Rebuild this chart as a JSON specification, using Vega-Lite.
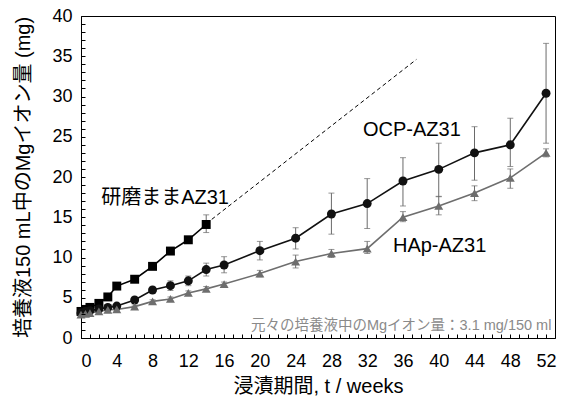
{
  "$schema": "https://vega.github.io/schema/vega-lite/v6.json",
  "autosize": {"type": "none"},
  "width": 474,
  "height": 322,
  "padding": {"left": 81, "top": 16, "right": 13, "bottom": 62},
  "background": "white",
  "config": {
    "view": {"stroke": "#000000", "strokeWidth": 1},
    "font": "Liberation Sans, Noto Sans CJK JP",
    "axis": {"grid": false, "domainColor": "#000", "tickColor": "#000", "labelColor": "#000", "titleColor": "#000", "labelFont": "Liberation Sans", "labelFontSize": 18, "titleFont": "Liberation Sans, Noto Sans CJK JP", "titleFontSize": 20, "titleFontWeight": "normal"}
  },
  "datasets": {
    "pts": [
      {"series": "P", "week": 0, "mg": 3.3, "lo": 3.1, "hi": 3.5},
      {"series": "P", "week": 0.5, "mg": 3.55, "lo": 3.4, "hi": 3.7},
      {"series": "P", "week": 1, "mg": 3.8, "lo": 3.65, "hi": 3.95},
      {"series": "P", "week": 2, "mg": 4.3, "lo": 4.15, "hi": 4.45},
      {"series": "P", "week": 3, "mg": 5.1, "lo": 4.95, "hi": 5.25},
      {"series": "P", "week": 4, "mg": 6.45, "lo": 6.3, "hi": 6.6},
      {"series": "P", "week": 6, "mg": 7.3, "lo": 7.15, "hi": 7.45},
      {"series": "P", "week": 8, "mg": 8.9, "lo": 8.55, "hi": 9.25},
      {"series": "P", "week": 10, "mg": 10.8, "lo": 10.6, "hi": 11.0},
      {"series": "P", "week": 12, "mg": 12.2, "lo": 11.9, "hi": 12.5},
      {"series": "P", "week": 14, "mg": 14.1, "lo": 13.1, "hi": 15.3},
      {"series": "O", "week": 0, "mg": 3.1, "lo": 2.95, "hi": 3.25},
      {"series": "O", "week": 0.5, "mg": 3.3, "lo": 3.15, "hi": 3.45},
      {"series": "O", "week": 1, "mg": 3.4, "lo": 3.25, "hi": 3.55},
      {"series": "O", "week": 2, "mg": 3.6, "lo": 3.45, "hi": 3.75},
      {"series": "O", "week": 3, "mg": 3.8, "lo": 3.6, "hi": 4.0},
      {"series": "O", "week": 4, "mg": 3.97, "lo": 3.75, "hi": 4.2},
      {"series": "O", "week": 6, "mg": 4.72, "lo": 4.5, "hi": 4.95},
      {"series": "O", "week": 8, "mg": 5.96, "lo": 5.65, "hi": 6.25},
      {"series": "O", "week": 10, "mg": 6.5, "lo": 5.9, "hi": 7.1},
      {"series": "O", "week": 12, "mg": 7.1, "lo": 6.5, "hi": 7.7},
      {"series": "O", "week": 14, "mg": 8.5, "lo": 7.7, "hi": 9.3},
      {"series": "O", "week": 16, "mg": 9.07, "lo": 8.1, "hi": 10.1},
      {"series": "O", "week": 20, "mg": 10.85, "lo": 9.7, "hi": 12.0},
      {"series": "O", "week": 24, "mg": 12.4, "lo": 11.06, "hi": 13.7},
      {"series": "O", "week": 28, "mg": 15.4, "lo": 12.9, "hi": 18.0},
      {"series": "O", "week": 32, "mg": 16.7, "lo": 13.6, "hi": 19.8},
      {"series": "O", "week": 36, "mg": 19.5, "lo": 16.4, "hi": 22.4},
      {"series": "O", "week": 40, "mg": 20.95, "lo": 17.55, "hi": 24.2},
      {"series": "O", "week": 44, "mg": 23.0, "lo": 19.6, "hi": 26.25},
      {"series": "O", "week": 48, "mg": 24.0, "lo": 21.3, "hi": 27.3},
      {"series": "O", "week": 52, "mg": 30.4, "lo": 24.2, "hi": 36.6},
      {"series": "H", "week": 0, "mg": 2.9, "lo": 2.75, "hi": 3.05},
      {"series": "H", "week": 0.5, "mg": 3.0, "lo": 2.85, "hi": 3.15},
      {"series": "H", "week": 1, "mg": 3.1, "lo": 2.95, "hi": 3.25},
      {"series": "H", "week": 2, "mg": 3.3, "lo": 3.15, "hi": 3.45},
      {"series": "H", "week": 3, "mg": 3.5, "lo": 3.35, "hi": 3.65},
      {"series": "H", "week": 4, "mg": 3.55, "lo": 3.4, "hi": 3.7},
      {"series": "H", "week": 6, "mg": 3.9, "lo": 3.7, "hi": 4.1},
      {"series": "H", "week": 8, "mg": 4.55, "lo": 4.35, "hi": 4.75},
      {"series": "H", "week": 10, "mg": 4.85, "lo": 4.6, "hi": 5.1},
      {"series": "H", "week": 12, "mg": 5.6, "lo": 5.35, "hi": 5.85},
      {"series": "H", "week": 14, "mg": 6.1, "lo": 5.8, "hi": 6.4},
      {"series": "H", "week": 16, "mg": 6.7, "lo": 6.45, "hi": 6.95},
      {"series": "H", "week": 20, "mg": 8.0, "lo": 7.6, "hi": 8.4},
      {"series": "H", "week": 24, "mg": 9.5, "lo": 8.7, "hi": 10.3},
      {"series": "H", "week": 28, "mg": 10.5, "lo": 10.0, "hi": 11.0},
      {"series": "H", "week": 32, "mg": 11.1, "lo": 10.5, "hi": 12.0},
      {"series": "H", "week": 36, "mg": 15.0, "lo": 14.45, "hi": 15.7},
      {"series": "H", "week": 40, "mg": 16.4, "lo": 15.3, "hi": 17.6},
      {"series": "H", "week": 44, "mg": 18.0, "lo": 17.06, "hi": 18.9},
      {"series": "H", "week": 48, "mg": 19.9, "lo": 18.6, "hi": 21.0},
      {"series": "H", "week": 52, "mg": 23.0, "lo": 22.5, "hi": 23.5}
    ],
    "trend": [
      {"week": 14, "mg": 14.2},
      {"week": 37.5, "mg": 34.6}
    ],
    "labels": [
      {"week": 9.4, "mg": 17.4, "text": "研磨ままAZ31"},
      {"week": 37.0, "mg": 25.8, "text": "OCP-AZ31"},
      {"week": 40.1, "mg": 11.4, "text": "HAp-AZ31"}
    ],
    "band": [
      {"week": 52.6, "mg": 1.5, "text": "元々の培養液中のMgイオン量：3.1 mg/150 ml"}
    ]
  },
  "resolve": {"axis": {"x": "independent", "y": "independent"}},
  "layer": [
    {
      "mark": {"type": "rect", "fill": "#e0e0e0"},
      "encoding": {
        "x": {"datum": 0, "type": "quantitative", "axis": null},
        "x2": {"datum": 53},
        "y": {"datum": 0, "type": "quantitative", "axis": null},
        "y2": {"datum": 3.1}
      }
    },
    {
      "mark": {"type": "rule", "stroke": "#9a9a9a", "strokeWidth": 1},
      "encoding": {"y": {"datum": 3.1, "type": "quantitative", "axis": null}}
    },
    {
      "data": {"name": "band"},
      "mark": {"type": "text", "align": "right", "baseline": "middle", "fontSize": 14.5, "fill": "#8a8a8a", "font": "Liberation Sans, Noto Sans CJK JP"},
      "encoding": {"x": {"field": "week", "type": "quantitative", "axis": null}, "y": {"field": "mg", "type": "quantitative", "axis": null}, "text": {"field": "text"}}
    },
    {
      "mark": {"type": "rule", "stroke": "#808080", "strokeWidth": 2},
      "encoding": {"x": {"datum": 53, "type": "quantitative", "axis": null}}
    },
    {
      "data": {"name": "trend"},
      "mark": {"type": "line", "stroke": "#000", "strokeWidth": 1, "strokeDash": [4, 3]},
      "encoding": {"x": {"field": "week", "type": "quantitative", "axis": null}, "y": {"field": "mg", "type": "quantitative", "axis": null}}
    },
    {
      "data": {"name": "pts"},
      "mark": {"type": "rule", "stroke": "#6a6a6a", "strokeWidth": 1},
      "encoding": {"x": {"field": "week", "type": "quantitative", "axis": null}, "y": {"field": "lo", "type": "quantitative", "axis": null}, "y2": {"field": "hi"}}
    },
    {
      "data": {"name": "pts"},
      "mark": {"type": "tick", "orient": "horizontal", "size": 6, "thickness": 1, "color": "#6a6a6a"},
      "encoding": {"x": {"field": "week", "type": "quantitative", "axis": null}, "y": {"field": "lo", "type": "quantitative", "axis": null}}
    },
    {
      "data": {"name": "pts"},
      "mark": {"type": "tick", "orient": "horizontal", "size": 6, "thickness": 1, "color": "#6a6a6a"},
      "encoding": {"x": {"field": "week", "type": "quantitative", "axis": null}, "y": {"field": "hi", "type": "quantitative", "axis": null}}
    },
    {
      "data": {"name": "pts"},
      "mark": {"type": "line", "strokeWidth": 1.6},
      "encoding": {
        "x": {"field": "week", "type": "quantitative", "scale": {"domain": [0, 53], "nice": false, "zero": false},
          "axis": {"orient": "bottom", "values": [0,4,8,12,16,20,24,28,32,36,40,44,48,52], "labelOverlap": false, "labelBound": false, "tickSize": 0, "labelPadding": 14, "titlePadding": 6, "title": "浸漬期間, t / weeks"}},
        "y": {"field": "mg", "type": "quantitative", "scale": {"domain": [0, 40], "nice": false},
          "axis": {"orient": "left", "values": [0,5,10,15,20,25,30,35,40], "labelOverlap": false, "labelBound": false, "tickSize": 0, "labelPadding": 9, "titlePadding": 18, "title": "培養液150 mL中のMgイオン量 (mg)"}},
        "color": {"field": "series", "type": "nominal", "scale": {"domain": ["P", "O", "H"], "range": ["#000000", "#111111", "#6e6e6e"]}, "legend": null}
      }
    },
    {
      "data": {"name": "pts"},
      "mark": {"type": "point", "filled": true, "opacity": 1, "size": 80},
      "encoding": {
        "x": {"field": "week", "type": "quantitative", "axis": null},
        "y": {"field": "mg", "type": "quantitative", "axis": null},
        "color": {"field": "series", "type": "nominal", "scale": {"domain": ["P", "O", "H"], "range": ["#000000", "#111111", "#6e6e6e"]}, "legend": null},
        "shape": {"field": "series", "type": "nominal", "scale": {"domain": ["P", "O", "H"], "range": ["square", "circle", "triangle-up"]}, "legend": null}
      }
    },
    {
      "data": {"name": "labels"},
      "mark": {"type": "text", "align": "center", "baseline": "middle", "fontSize": 20, "fill": "#000", "font": "Liberation Sans, Noto Sans CJK JP"},
      "encoding": {"x": {"field": "week", "type": "quantitative", "axis": null}, "y": {"field": "mg", "type": "quantitative", "axis": null}, "text": {"field": "text"}}
    },
    {
      "data": {"name": "pts"},
      "mark": {"type": "point", "opacity": 0, "size": 1},
      "encoding": {
        "x": {"field": "week", "type": "quantitative",
          "axis": {"orient": "bottom", "offset": -4, "values": [0,1,2,3,4,5,6,7,8,9,10,11,12,13,14,15,16,17,18,19,20,21,22,23,24,25,26,27,28,29,30,31,32,33,34,35,36,37,38,39,40,41,42,43,44,45,46,47,48,49,50,51,52],
            "labels": false, "domain": false, "title": null, "tickSize": 4, "zindex": 2}},
        "y": {"field": "mg", "type": "quantitative",
          "axis": {"orient": "left", "offset": -4, "values": [0,1,2,3,4,5,6,7,8,9,10,11,12,13,14,15,16,17,18,19,20,21,22,23,24,25,26,27,28,29,30,31,32,33,34,35,36,37,38,39,40],
            "labels": false, "domain": false, "title": null, "tickSize": 4, "zindex": 2}}
      }
    }
  ]
}
